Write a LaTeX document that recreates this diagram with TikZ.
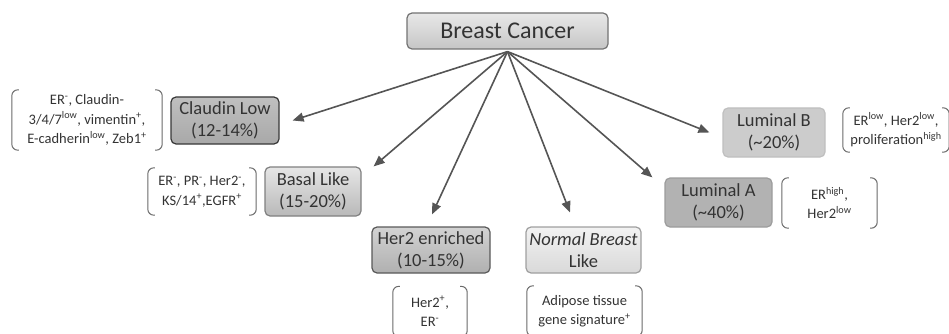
\documentclass[tikz,border=0pt]{standalone}
\usepackage{fontspec}
\setmainfont{Carlito}
\usetikzlibrary{arrows.meta,calc}
\definecolor{ink}{HTML}{333333}
\definecolor{arrowgray}{HTML}{555555}
\definecolor{bracketgray}{HTML}{6A6A6A}
\newcommand{\sps}[1]{\textsuperscript{#1}}
\begin{document}
\begin{tikzpicture}[x=1pt,y=-1pt,
  box/.style={rounded corners=5pt,line width=1.2pt,align=center,inner sep=0pt,
    text=ink,font=\fontsize{18.5}{22}\selectfont},
  notes/.style={align=center,inner sep=0pt,text=ink,
    font=\fontsize{14.5}{19.5}\selectfont},
  bracket/.style={draw=bracketgray,line width=1pt,rounded corners=6pt},
  arr/.style={draw=arrowgray,line width=1.6pt,
    -{Triangle[length=11pt,width=9pt]}}]
\useasboundingbox (0,0) rectangle (949,334);

% subtype boxes
\node[box,top color=gray!18,bottom color=gray!45,draw=gray!110,
  minimum width=201pt,minimum height=36pt,font=\fontsize{24}{28}\selectfont]
  (bc) at (507.5,31) {Breast Cancer};
\node[box,top color=gray!50,bottom color=gray!68,draw=black!78,
  minimum width=108pt,minimum height=47pt] (cl) at (225,120.5) {Claudin Low\\(12-14\%)};
\node[box,top color=gray!20,bottom color=gray!55,draw=gray!100,
  minimum width=96pt,minimum height=49pt] (bl) at (313,191.5) {Basal Like\\(15-20\%)};
\node[box,top color=gray!35,bottom color=gray!62,draw=black!65,
  minimum width=118pt,minimum height=46pt] (h2) at (431,250) {Her2 enriched\\(10-15\%)};
\node[box,top color=gray!10,bottom color=gray!30,draw=gray!75,
  minimum width=115pt,minimum height=46pt] (nb) at (583.5,250) {\textit{Normal Breast}\\Like};
\node[box,fill=gray!60,draw=gray!78,
  minimum width=107pt,minimum height=49pt] (la) at (718.5,202.5) {Luminal A\\(\textasciitilde40\%)};
\node[box,fill=gray!40,draw=gray!50,
  minimum width=102pt,minimum height=49pt] (lb) at (774,132.5) {Luminal B\\(\textasciitilde20\%)};

% marker notes
\node[notes,minimum width=150pt,minimum height=60pt] (clnote) at (87,120)
  {ER\sps{-}, Claudin-\\3/4/7\sps{low}, vimentin\sps{+},\\E-cadherin\sps{low}, Zeb1\sps{+}};
\node[notes,minimum width=108pt,minimum height=47pt] (blnote) at (202,191.5)
  {ER\sps{-}, PR\sps{-}, Her2\sps{-},\\KS/14\sps{+},EGFR\sps{+}};
\node[notes,minimum width=74pt,minimum height=50pt] (h2note) at (430,311.5)
  {Her2\sps{+},\\ER\sps{-}};
\node[notes,minimum width=115pt,minimum height=50pt] (nbnote) at (584.5,311)
  {Adipose tissue\\gene signature\sps{+}};
\node[notes,minimum width=95pt,minimum height=50pt] (lanote) at (829.5,203)
  {ER\sps{high},\\Her2\sps{low}};
\node[notes,minimum width=106pt,minimum height=44pt] (lbnote) at (896,130)
  {ER\sps{low}, Her2\sps{low},\\proliferation\sps{high}};

% round brackets around the notes
\foreach \n in {clnote,blnote,h2note,nbnote,lanote,lbnote}{
  \draw[bracket] ($(\n.north west)+(7,0)$) -- (\n.north west) -- (\n.south west) -- ($(\n.south west)+(7,0)$);
  \draw[bracket] ($(\n.north east)+(-7,0)$) -- (\n.north east) -- (\n.south east) -- ($(\n.south east)+(-7,0)$);
}

% connectors
\coordinate (hub) at ($(bc.south)+(0,2)$);
\draw[arr] (hub) -- ($(cl.east)+(13,0)$);
\draw[arr] (hub) -- ($(bl.north east)+(12,0)$);
\draw[arr] (hub) -- ($(h2.north)+(1,-12)$);
\draw[arr] (hub) -- ($(nb.north)+(-13.5,-14)$);
\draw[arr] (hub) -- ($(la.north west)+(-12,0)$);
\draw[arr] (hub) -- ($(lb.west)+(-13,0)$);
\end{tikzpicture}
\end{document}
